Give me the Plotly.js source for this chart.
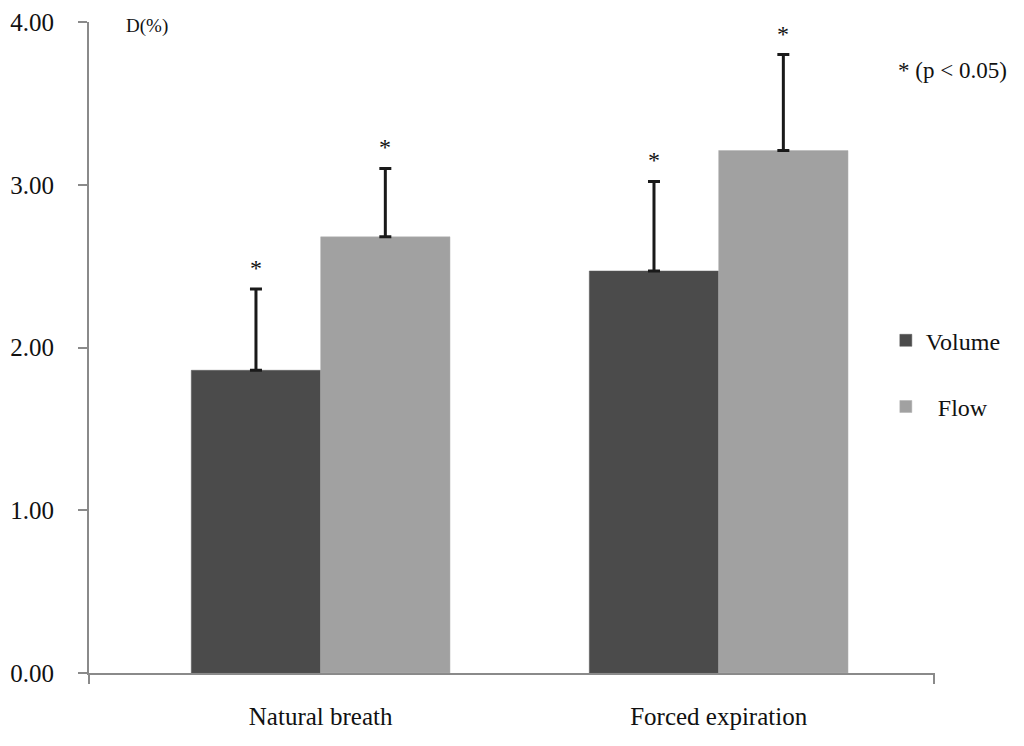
<!DOCTYPE html>
<html>
<head>
<meta charset="utf-8">
<script src="https://cdn.plot.ly/plotly-3.0.1.min.js"></script>
<style>html,body{margin:0;padding:0;background:#fff;}#chart{width:1024px;height:746px;}</style>
</head>
<body>
<div id="chart"></div>
<script>
// Data
var categories = ["Natural breath", "Forced expiration"];
var seriesNames = ["Volume", "Flow"];
var volumeValues = [1.86, 2.47];
var volumeErrors = [0.50, 0.55];
var flowValues = [2.68, 3.21];
var flowErrors = [0.42, 0.59];
var significant = [[true, true], [true, true]]; // [series][category]
var yTickValues = [0, 1, 2, 3, 4];
var yTickLabels = ["0.00", "1.00", "2.00", "3.00", "4.00"];

var FONT = "'Liberation Serif', 'Times New Roman', serif";
var bargap = 0.35;

function errBar(arr) {
  return {type: "data", array: arr, arrayminus: arr.map(function(){return 0;}), symmetric: false,
          visible: true, color: "#1a1a1a", thickness: 3, width: 6};
}

var traces = [
  {type: "bar", name: seriesNames[0], x: categories, y: volumeValues, error_y: errBar(volumeErrors),
   marker: {color: "#4b4b4b", line: {color: "#5a5a5a", width: 0.5}}, legendgroup: "a"},
  {type: "bar", name: "\u00a0\u00a0" + seriesNames[1], x: categories, y: flowValues, error_y: errBar(flowErrors),
   marker: {color: "#a1a1a1", line: {color: "#b0b0b0", width: 0.5}}, legendgroup: "b"}
];

// asterisks above significant error bars
var annotations = [];
var allVals = [volumeValues, flowValues];
var allErrs = [volumeErrors, flowErrors];
var off = (1 - bargap) / 4;
for (var s = 0; s < 2; s++) {
  for (var c = 0; c < categories.length; c++) {
    if (!significant[s][c]) continue;
    annotations.push({x: c + (s === 0 ? -off : off), y: allVals[s][c] + allErrs[s][c],
      xref: "x", yref: "y", text: "*", showarrow: false, yanchor: "bottom", yshift: 6,
      font: {family: FONT, size: 24, color: "#111111"}});
  }
}
annotations.push({xref: "paper", yref: "paper", x: 0.042, y: 1.0, xanchor: "left", yanchor: "middle",
  yshift: -4, text: "D(%)", showarrow: false, font: {family: FONT, size: 19, color: "#111111"}});
annotations.push({xref: "paper", yref: "paper", x: 0.955, y: 0.925, xanchor: "left", yanchor: "middle",
  text: "* (p < 0.05)", showarrow: false, font: {family: FONT, size: 23, color: "#111111"}});

var shapes = [
  {type: "line", xref: "paper", yref: "paper", x0: 0, x1: 0, y0: 0, y1: -0.017, line: {color: "#8a8a8a", width: 2}},
  {type: "line", xref: "paper", yref: "paper", x0: 1, x1: 1, y0: 0, y1: -0.017, line: {color: "#8a8a8a", width: 2}}
];

var layout = {
  width: 1024, height: 746,
  margin: {l: 89, r: 90, t: 22, b: 73, pad: 0},
  paper_bgcolor: "#ffffff", plot_bgcolor: "#ffffff",
  barmode: "group", bargap: bargap, bargroupgap: 0,
  font: {family: FONT, color: "#111111"},
  showlegend: true,
  legend: {x: 0.943, xanchor: "left", y: 0.545, yanchor: "top", tracegroupgap: 32,
           font: {family: FONT, size: 24, color: "#111111"}, bgcolor: "rgba(0,0,0,0)", itemwidth: 30},
  xaxis: {type: "category", range: [-0.582, 1.541], showline: true, linecolor: "#8a8a8a", linewidth: 2,
          ticks: "", showgrid: false, zeroline: false, fixedrange: true,
          tickfont: {family: FONT, size: 25, color: "#111111"}, ticklabelstandoff: 20},
  yaxis: {range: [0, 4], tickvals: yTickValues, ticktext: yTickLabels, showline: true, linecolor: "#8a8a8a",
          linewidth: 2, ticks: "outside", ticklen: 9, tickwidth: 2, tickcolor: "#8a8a8a",
          showgrid: false, zeroline: false, fixedrange: true, ticklabelstandoff: 19,
          tickfont: {family: FONT, size: 25, color: "#111111"}},
  annotations: annotations,
  shapes: shapes
};

Plotly.newPlot("chart", traces, layout, {displayModeBar: false, staticPlot: true});
</script>
</body>
</html>
